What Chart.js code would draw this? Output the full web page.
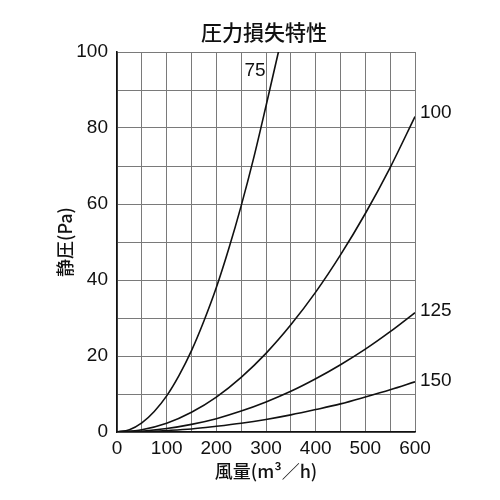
<!DOCTYPE html>
<html>
<head>
<meta charset="utf-8">
<script src="https://cdn.jsdelivr.net/npm/chart.js@4"></script>
<style>
  html, body { margin: 0; padding: 0; background: #fff; }
  #wrap { width: 500px; height: 500px; }
</style>
</head>
<body>
<div id="wrap"><canvas id="lossChart"></canvas></div>
<script>
// air flow (m3/h) where each curve was read
const flowPoints = [0, 50, 100, 150, 200, 250, 300, 350, 400, 450, 500, 550, 600];
const flow75 = [0, 25, 50, 75, 100, 125, 150, 175, 200, 225, 250, 275, 300, 325];
const pressure75 = [0, 0.6, 2.4, 5.4, 9.5, 14.9, 21.4, 29.2, 38, 48.2, 59.5, 72, 85.8, 100];
const pressure100 = [0, 0.6, 2.3, 5.2, 9.2, 14.4, 20.7, 28.2, 36.8, 46.6, 57.5, 69.6, 83];
const pressure125 = [0, 0.2, 0.9, 2, 3.5, 5.5, 7.9, 10.7, 14, 17.7, 21.8, 26.4, 31.4];
const pressure150 = [0, 0.1, 0.4, 0.8, 1.5, 2.3, 3.3, 4.5, 5.9, 7.4, 9.2, 11.1, 13.2];

const curveNames = ["75", "100", "125", "150"];
const labelX = [278, 610, 610, 610];
const labelY = [95, 84, 32, 13.5];

const toPoints = (xs, ys) => ys.map((y, i) => ({ x: xs[i], y: y }));

const tickFont = { family: "'Liberation Sans', Arial, sans-serif", size: 19 };
const jpFont = "'Noto Sans CJK JP', sans-serif";

const curveLabels = {
  id: "curveLabels",
  afterDatasetsDraw(chart) {
    const { ctx, scales } = chart;
    ctx.save();
    ctx.fillStyle = "#111";
    ctx.font = "19px 'Liberation Sans', Arial, sans-serif";
    ctx.textBaseline = "middle";
    curveNames.forEach((name, i) => {
      ctx.textAlign = i === 0 ? "center" : "left";
      ctx.fillText(name, scales.x.getPixelForValue(labelX[i]), scales.y.getPixelForValue(labelY[i]));
    });
    // chart title
    ctx.font = "500 21px " + jpFont;
    ctx.textAlign = "center";
    ctx.fillText("圧力損失特性", 264, 32);
    ctx.restore();
  }
};

const lineStyle = {
  borderColor: "#111",
  borderWidth: 1.6,
  pointRadius: 0,
  fill: false,
  cubicInterpolationMode: "monotone"
};

new Chart(document.getElementById("lossChart"), {
  type: "line",
  data: {
    datasets: [
      Object.assign({ label: "75", data: toPoints(flow75, pressure75) }, lineStyle),
      Object.assign({ label: "100", data: toPoints(flowPoints, pressure100) }, lineStyle),
      Object.assign({ label: "125", data: toPoints(flowPoints, pressure125) }, lineStyle),
      Object.assign({ label: "150", data: toPoints(flowPoints, pressure150) }, lineStyle)
    ]
  },
  options: {
    responsive: true,
    maintainAspectRatio: false,
    animation: false,
    layout: { padding: { top: 52, right: 85, left: 0, bottom: 0 } },
    plugins: { legend: { display: false }, tooltip: { enabled: false } },
    scales: {
      x: {
        type: "linear",
        min: 0,
        max: 600,
        afterFit: (s) => { s.height = 68; },
        border: { color: "#111", width: 1.6 },
        grid: { color: "#7a7a7a", lineWidth: 1, drawTicks: false },
        ticks: {
          stepSize: 50,
          autoSkip: false,
          maxRotation: 0,
          padding: 5,
          color: "#111",
          font: tickFont,
          callback: (v) => (v % 100 === 0 ? v : "")
        },
        title: {
          display: true,
          text: "風量(m³／h)",
          color: "#111",
          font: { family: jpFont, size: 18, weight: "500" },
          padding: { top: 10, bottom: 18 }
        }
      },
      y: {
        min: 0,
        max: 100,
        afterFit: (s) => { s.width = 117; },
        border: { color: "#111", width: 1.6 },
        grid: { color: "#7a7a7a", lineWidth: 1, drawTicks: false },
        ticks: {
          stepSize: 10,
          autoSkip: false,
          padding: 9,
          color: "#111",
          font: tickFont,
          callback: (v) => (v % 20 === 0 ? v : "")
        },
        title: {
          display: true,
          text: "静圧(Pa)",
          color: "#111",
          font: { family: jpFont, size: 18, weight: "500" },
          padding: { top: 54, bottom: 10 }
        }
      }
    }
  },
  plugins: [curveLabels]
});
</script>
</body>
</html>
